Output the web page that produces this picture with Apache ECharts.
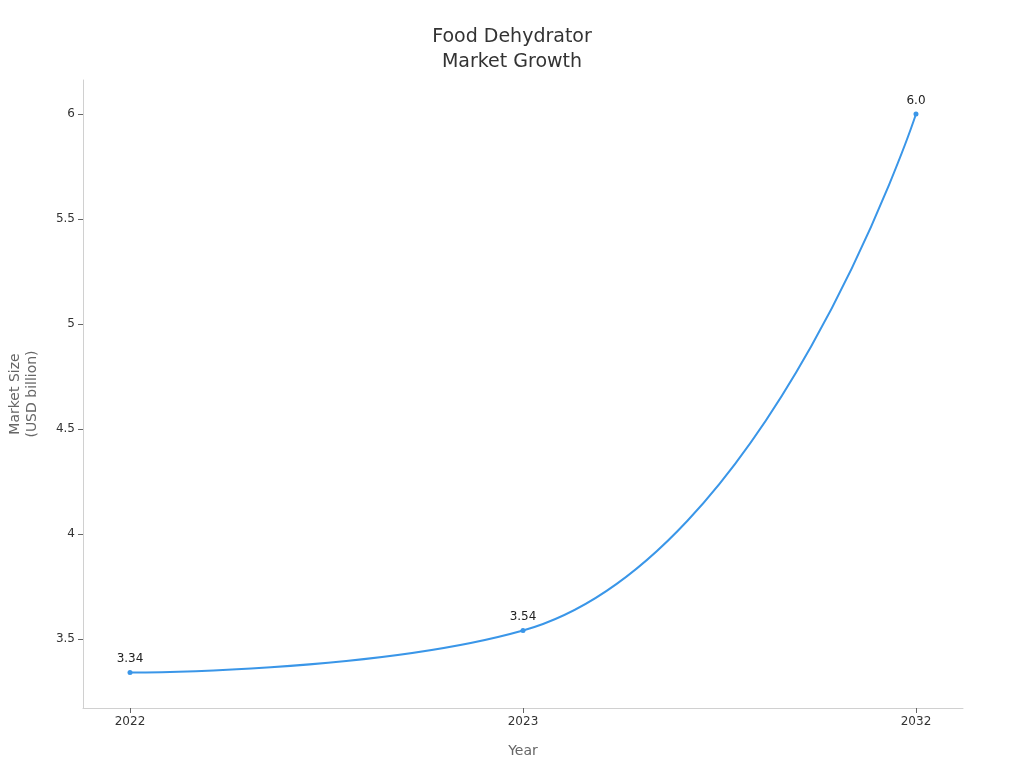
<!DOCTYPE html>
<html>
<head>
<meta charset="utf-8">
<script src="https://cdn.jsdelivr.net/npm/echarts@6/dist/echarts.min.js"></script>
<style>html,body{margin:0;padding:0;}#chart{width:1024px;height:768px;}</style>
</head>
<body>
<div id="chart"></div>
<script>
var years = ['2022', '2023', '2032'];
var marketSize = [3.34, 3.54, 6.0];
var labels = ['3.34', '3.54', '6.0'];
var yTicks = [3.5, 4, 4.5, 5, 5.5, 6];

var chart = echarts.init(document.getElementById('chart'));
var points = marketSize.map(function (v, i) { return [i, v]; });
var axisColor = '#d0d0d0';
chart.setOption({
  title: {
    text: 'Food Dehydrator\nMarket Growth',
    left: 'center',
    top: 20,
    textStyle: { color: '#333', fontSize: 19, fontWeight: 'normal', lineHeight: 25, fontFamily: 'DejaVu Sans' }
  },
  grid: { left: 83, right: 61, top: 80, bottom: 60, outerBoundsMode: 'none', containLabel: false },
  xAxis: {
    type: 'value',
    min: -0.1196,
    max: 2.1196,
    name: 'Year',
    nameLocation: 'middle',
    nameGap: 36,
    nameTextStyle: { color: '#666', fontSize: 14, fontFamily: 'DejaVu Sans' },
    splitLine: { show: false },
    axisLine: { onZero: false, lineStyle: { color: axisColor } },
    axisTick: { show: true, customValues: [0, 1, 2], lineStyle: { color: '#666' } },
    axisLabel: {
      customValues: [0, 1, 2],
      color: '#333', fontSize: 12, fontFamily: 'DejaVu Sans',
      formatter: function (v) { return years[Math.round(v)]; }
    }
  },
  yAxis: {
    type: 'value',
    min: 3.171,
    max: 6.162,
    name: 'Market Size\n(USD billion)',
    nameLocation: 'middle',
    nameGap: 42,
    nameTextStyle: { color: '#666', fontSize: 14, fontFamily: 'DejaVu Sans', lineHeight: 17 },
    splitLine: { show: false },
    axisLine: { show: true, onZero: false, lineStyle: { color: axisColor } },
    axisTick: { show: true, customValues: yTicks, lineStyle: { color: '#666' } },
    axisLabel: { customValues: yTicks, color: '#333', fontSize: 12, fontFamily: 'DejaVu Sans' }
  },
  series: [{
    type: 'line',
    smooth: 0.5,
    data: points,
    symbol: 'circle',
    symbolSize: 5,
    itemStyle: { color: '#3a96e8' },
    lineStyle: { color: '#3a96e8', width: 2 },
    label: {
      show: true, position: 'top', color: '#222', fontSize: 12, fontFamily: 'DejaVu Sans',
      formatter: function (p) { return labels[p.dataIndex]; }
    }
  }]
});
</script>
</body>
</html>
